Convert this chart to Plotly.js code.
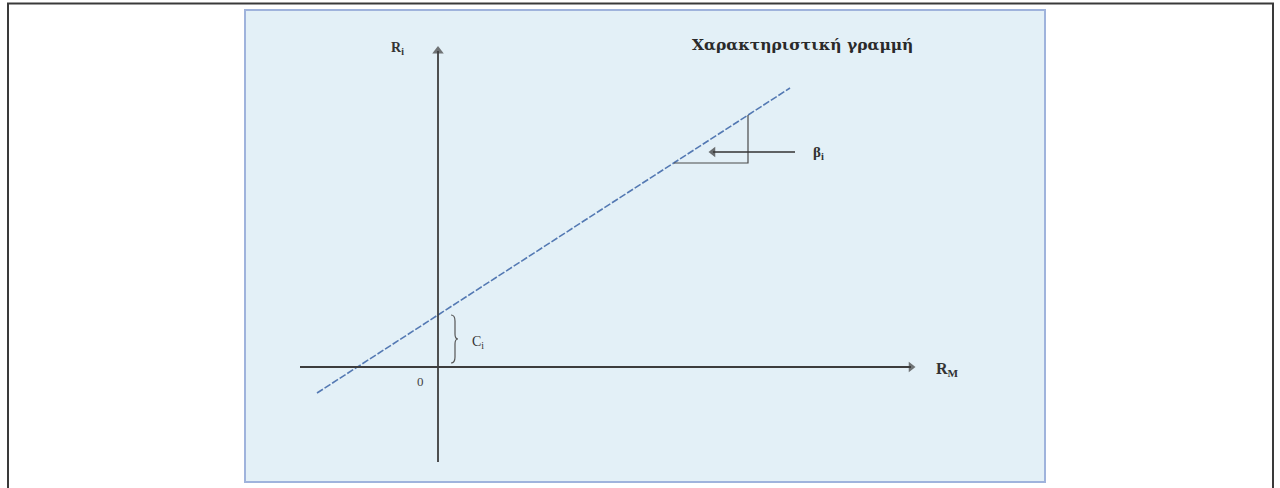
<!DOCTYPE html>
<html>
<head>
<meta charset="utf-8">
<script src="https://cdn.plot.ly/plotly-3.0.1.min.js"></script>
<style>html,body{margin:0;padding:0;background:#fff;}#chart{width:1280px;height:488px;}</style>
</head>
<body>
<div id="chart"></div>
<script>
// Characteristic line (R_i vs R_M)
const lineX = [-12.1, 35.2];
const lineY = [-2.6, 27.9];
// Axes extents
const axisXRange = [-13.8, 47.3];
const axisYRange = [-9.5, 31.6];
// Slope triangle (beta_i)
const triX = [23.6, 31.0, 31.0];
const triY = [20.4, 20.4, 25.2];
// Arrow pointing at the slope
const betaArrowX = [35.7, 27.5];
const betaArrowY = [21.5, 21.5];
// Labels
const chartTitle = "Χαρακτηριστική γραμμή";
const labelRi = "R<sub>i</sub>";
const labelRM = "R<sub>M</sub>";
const labelBeta = "β<sub>i</sub>";
const labelC = "C<sub>i</sub>";
const labelZero = "0";

const serif = "DejaVu Serif, Liberation Serif, serif";
const serif2 = "Liberation Serif, DejaVu Serif, serif";
const axisColor = "#3d3d3d";

function arrowTrace(xs, ys, color, width, size) {
  return {x: xs, y: ys, mode: "lines+markers", type: "scatter", hoverinfo: "skip",
    line: {color: color, width: width},
    marker: {symbol: ["circle", "triangle-up"], size: [0, size], color: color, angleref: "previous",
             line: {width: 0}}};
}

const traces = [
  {x: lineX, y: lineY, mode: "lines", type: "scatter", hoverinfo: "skip",
   line: {color: "#5479b3", width: 1.6, dash: "7px,2px"}},
  {x: triX, y: triY, mode: "lines", type: "scatter", hoverinfo: "skip",
   line: {color: "#4a4a4a", width: 1.2}},
  arrowTrace([0, 0], axisYRange, axisColor, 1.8, 10),
  arrowTrace(axisXRange, [0, 0], axisColor, 1.8, 9),
  arrowTrace(betaArrowX, betaArrowY, "#333", 1.3, 9)
];

const shapes = [
  // outer frame
  {type: "rect", xref: "paper", yref: "paper", x0: 8/1280, x1: 1273/1280, y0: -0.05, y1: 1 - 3.5/488,
   line: {color: "#3a3a3a", width: 2}, fillcolor: "rgba(0,0,0,0)", layer: "below"},
  // light blue panel
  {type: "rect", xref: "paper", yref: "paper", x0: 245/1280, x1: 1045/1280, y0: 1 - 482/488, y1: 1 - 10/488,
   line: {color: "#9fb3dc", width: 2}, fillcolor: "#e3f0f7", layer: "below"},
  // brace near intercept
  {type: "path", xref: "x", yref: "y",
   path: "M 1.3,5.2 Q 1.7,5.2 1.7,4.6 L 1.7,3.3 Q 1.7,2.8 2.0,2.8 Q 1.7,2.8 1.7,2.3 L 1.7,1.0 Q 1.7,0.4 1.3,0.4",
   line: {color: "#555", width: 1.2}}
];

const annotations = [
  {x: 36.4, y: 32.3, xref: "x", yref: "y", text: "<b>" + chartTitle + "</b>", showarrow: false,
   xanchor: "center", yanchor: "middle", font: {family: serif, size: 15.5, color: "#2a2a2a"}},
  {x: -4.1, y: 31.9, xref: "x", yref: "y", text: "<b>" + labelRi + "</b>", showarrow: false,
   xanchor: "center", yanchor: "middle", font: {family: serif2, size: 14, color: "#333"}},
  {x: 49.6, y: -0.2, xref: "x", yref: "y", text: "<b>" + labelRM + "</b>", showarrow: false,
   xanchor: "left", yanchor: "middle", font: {family: serif2, size: 16, color: "#333"}},
  {x: 37.3, y: 21.4, xref: "x", yref: "y", text: "<b>" + labelBeta + "</b>", showarrow: false,
   xanchor: "left", yanchor: "middle", font: {family: serif2, size: 15, color: "#333"}},
  {x: 3.2, y: 2.5, xref: "x", yref: "y", text: labelC, showarrow: false,
   xanchor: "left", yanchor: "middle", font: {family: serif2, size: 14, color: "#333"}},
  {x: -1.8, y: -1.4, xref: "x", yref: "y", text: labelZero, showarrow: false,
   xanchor: "center", yanchor: "middle", font: {family: serif2, size: 13, color: "#444"}}
];

const layout = {
  width: 1280, height: 488,
  margin: {l: 0, r: 0, t: 0, b: 0},
  paper_bgcolor: "#ffffff", plot_bgcolor: "rgba(0,0,0,0)",
  showlegend: false,
  xaxis: {range: [-43.8, 84.2], visible: false, fixedrange: true},
  yaxis: {range: [-12.1, 36.7], visible: false, fixedrange: true},
  shapes: shapes,
  annotations: annotations
};

Plotly.newPlot("chart", traces, layout, {staticPlot: true, displayModeBar: false});
</script>
</body>
</html>
